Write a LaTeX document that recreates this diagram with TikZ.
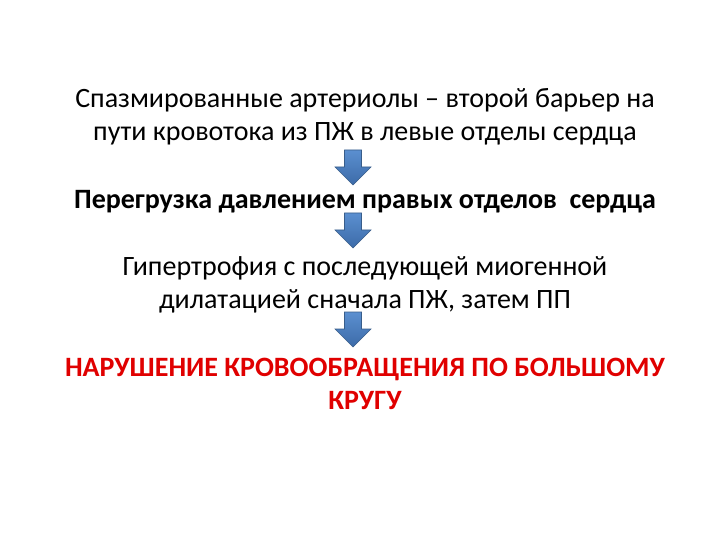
\documentclass[tikz,border=0pt]{standalone}
\usepackage{fontspec}
\setmainfont{Carlito}
\definecolor{arrowtop}{HTML}{5B8FD0}
\definecolor{arrowbot}{HTML}{3C6BA8}
\definecolor{arrowline}{HTML}{385D8A}
\definecolor{alarm}{HTML}{E00000}
\tikzset{
  txt/.style={anchor=base, inner sep=0pt, font=\fontsize{28}{33}\selectfont},
  boldtxt/.style={txt, font=\fontsize{28}{33}\selectfont\bfseries},
  redtxt/.style={txt, font=\fontsize{28}{33}\selectfont\bfseries, text=alarm},
  downarrow/.style={draw=arrowline, line width=0.6pt, top color=arrowtop, bottom color=arrowbot}
}
\newcommand{\blockarrow}[3]{% x, top y, name
  \path[downarrow] (#1-8.5,#2) -- (#1+8.5,#2) -- (#1+8.5,#2+17) -- (#1+18,#2+17)
     -- (#1,#2+35) -- (#1-18,#2+17) -- (#1-8.5,#2+17) -- cycle;
  \coordinate (#3) at (#1,#2);
}
\begin{document}
\begin{tikzpicture}[x=1pt,y=-1pt]
\useasboundingbox (0,0) rectangle (720,540);
\fill[white] (0,0) rectangle (720,540);
\node[txt] (l1) at (365,108) {Спазмированные артериолы – второй барьер на};
\node[txt] (l2) at (365,141) {пути кровотока из ПЖ в левые отделы сердца};
\node[boldtxt] (l3) at (365,208) {Перегрузка давлением правых отделов\ \ сердца};
\node[txt] (l4) at (365,275) {Гипертрофия с последующей миогенной};
\node[txt] (l5) at (365,308) {дилатацией сначала ПЖ, затем ПП};
\node[redtxt] (l6) at (365,376) {НАРУШЕНИЕ КРОВООБРАЩЕНИЯ ПО БОЛЬШОМУ};
\node[redtxt] (l7) at (365,409) {КРУГУ};
\blockarrow{353}{150}{a1}
\blockarrow{353}{213}{a2}
\blockarrow{353}{312}{a3}
\end{tikzpicture}
\end{document}
